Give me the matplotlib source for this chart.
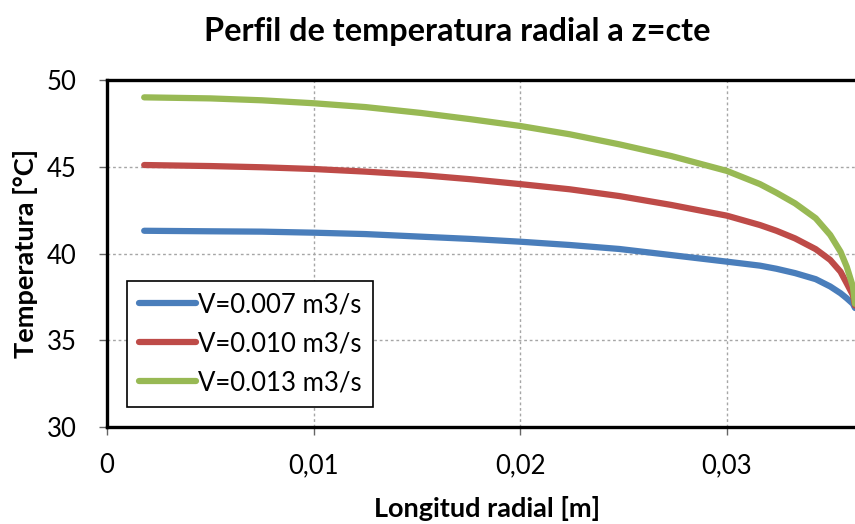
#!/usr/bin/env python

import matplotlib
matplotlib.use("Agg")
import matplotlib.pyplot as plt

# radial position [m] and temperature [°C]
r = [0.0018, 0.0050, 0.0075, 0.0100, 0.0125, 0.0152, 0.0176, 0.0200,
     0.0224, 0.0248, 0.0273, 0.0300, 0.0316, 0.0324, 0.0333, 0.0343,
     0.0350, 0.0355, 0.0358, 0.0361, 0.0362]
t_007 = [41.31, 41.28, 41.26, 41.20, 41.12, 40.97, 40.84, 40.68,
         40.49, 40.26, 39.91, 39.53, 39.30, 39.12, 38.87, 38.52,
         38.10, 37.71, 37.42, 37.10, 36.86]
t_010 = [45.10, 45.04, 44.97, 44.87, 44.72, 44.52, 44.28, 44.00,
         43.70, 43.31, 42.80, 42.18, 41.64, 41.31, 40.87, 40.25,
         39.63, 38.95, 38.28, 37.60, 37.00]
t_013 = [49.00, 48.94, 48.83, 48.66, 48.44, 48.10, 47.74, 47.35,
         46.87, 46.29, 45.62, 44.76, 44.00, 43.50, 42.89, 42.03,
         41.07, 40.10, 39.24, 38.09, 37.10]

labels = ["V=0.007 m3/s", "V=0.010 m3/s", "V=0.013 m3/s"]
colors = ["#4A7EBB", "#BE4B48", "#98B954"]
x_ticks = [0, 0.01, 0.02, 0.03]
x_ticklabels = ["0", "0,01", "0,02", "0,03"]
y_ticks = [30, 35, 40, 45, 50]

plt.rcParams['font.family'] = ['Lato', 'DejaVu Sans']

fig = plt.figure(figsize=(8.55, 5.24), dpi=100)
ax = fig.add_axes([107 / 855, 97 / 524, 751 / 855, 347 / 524])

for y, lab, c in zip([t_007, t_010, t_013], labels, colors):
    ax.plot(r, y, color=c, lw=4.5, label=lab, solid_capstyle='round',
            solid_joinstyle='round')

ax.set_xlim(0, 0.0362 + 3 / 20650)
ax.set_ylim(30, 50)
ax.set_xticks(x_ticks)
ax.set_xticklabels(x_ticklabels)
ax.set_yticks(y_ticks)

ax.grid(True, color="#a6a6a6", linestyle=(0, (2, 2)), linewidth=1)
for s in ax.spines.values():
    s.set_linewidth(2.4)
    s.set_color("black")
ax.tick_params(direction='out', length=6, width=1, color="#666666",
               labelsize=18.5)
ax.tick_params(axis='y', pad=16)
ax.tick_params(axis='x', pad=13)

ax.set_title("Perfil de temperatura radial a z=cte", fontsize=23.3,
             fontweight='bold', pad=28, x=(457 - 107) / 751)
ax.set_xlabel("Longitud radial [m]", fontsize=19.5, fontweight='bold')
ax.xaxis.set_label_coords((487 - 107) / 751, -(496 - 427) / 347)
ax.set_ylabel("Temperatura [°C]", fontsize=19.5, fontweight='bold')
ax.yaxis.set_label_coords(-(107 - 38) / 751, 0.5)

leg = ax.legend(loc='lower left', bbox_to_anchor=(0.0266, 0.0576),
                borderaxespad=0, fontsize=18.5, fancybox=False,
                framealpha=1, edgecolor='black', handlelength=2.25,
                handletextpad=0.05, labelspacing=0.55, borderpad=0.45)
leg.get_frame().set_linewidth(1.2)

fig.savefig("out.png", dpi=100)
